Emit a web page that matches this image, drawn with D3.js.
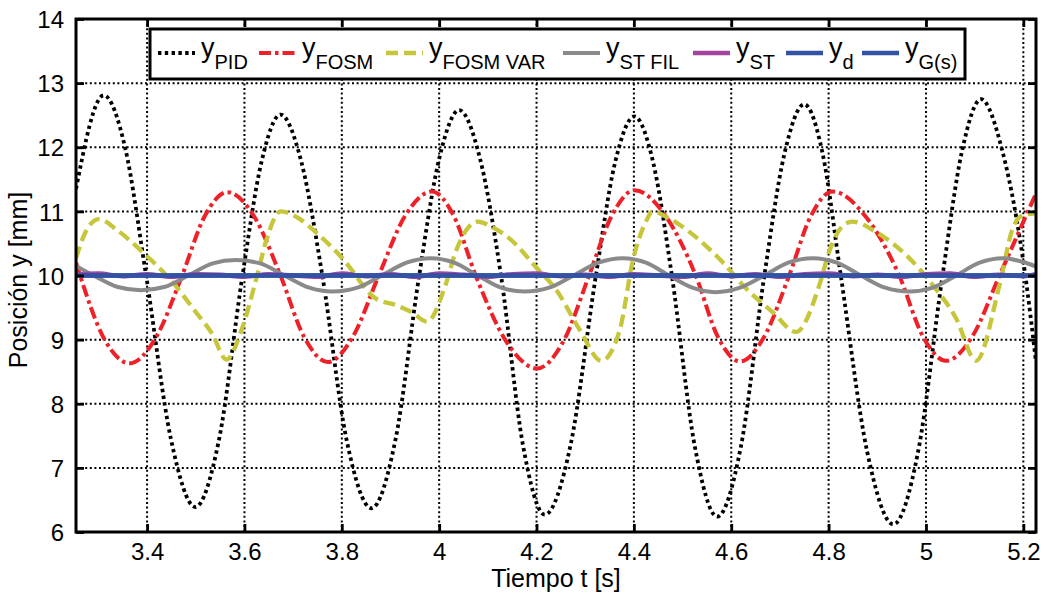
<!DOCTYPE html>
<html><head><meta charset="utf-8">
<script src="https://cdn.jsdelivr.net/npm/d3@7"></script>
<style>body{margin:0;background:#fff}svg{display:block}text{font-family:"Liberation Sans",Arial,sans-serif;fill:#000}</style>
</head><body>
<script>
// ---------- data ----------
const xTicks = [3.4, 3.6, 3.8, 4, 4.2, 4.4, 4.6, 4.8, 5, 5.2];
const yTicks = [6, 7, 8, 9, 10, 11, 12, 13, 14];
const xLabel = "Tiempo t [s]";
const yLabel = "Posición y [mm]";

const tPID = [3.254,3.311,3.355,3.398,3.449,3.499,3.548,3.596,3.635,3.674,3.717,3.760,3.810,3.861,3.910,3.959,4.000,4.041,4.084,4.127,4.172,4.217,4.270,4.322,4.361,4.401,4.440,4.478,4.525,4.571,4.620,4.668,4.709,4.750,4.788,4.825,4.879,4.933,4.984,5.034,5.074,5.113,5.157,5.204,5.226];
const vPID = [11.35,12.81,11.99,10.0,7.45,6.39,7.45,10.0,11.77,12.51,11.77,10.0,7.43,6.37,7.43,10.0,11.82,12.58,11.82,10.0,7.36,6.27,7.36,10.0,11.75,12.48,11.75,10.0,7.34,6.24,7.34,10.0,11.89,12.67,11.89,10.0,7.26,6.12,7.26,10.0,11.94,12.75,11.94,10.0,8.65];

const tFOSM = [3.254,3.315,3.364,3.418,3.472,3.518,3.565,3.620,3.674,3.722,3.771,3.823,3.876,3.930,3.985,4.030,4.075,4.138,4.201,4.255,4.308,4.355,4.401,4.464,4.527,4.572,4.618,4.668,4.719,4.763,4.808,4.876,4.945,4.993,5.041,5.096,5.151,5.226];
const vFOSM = [10.2,8.97,8.63,9.03,10.0,10.92,11.30,10.92,10.0,9.05,8.65,9.05,10.0,10.93,11.31,10.93,10.0,8.97,8.55,8.97,10.0,10.94,11.33,10.94,10.0,9.05,8.66,9.05,10.0,10.92,11.31,10.92,10.0,9.06,8.67,9.06,10.0,11.28];

const tFOSMVAR = [3.254,3.275,3.301,3.340,3.390,3.452,3.500,3.533,3.563,3.594,3.626,3.645,3.674,3.710,3.746,3.801,3.870,3.911,3.945,3.975,4.013,4.034,4.060,4.079,4.110,4.144,4.200,4.241,4.289,4.333,4.371,4.398,4.426,4.438,4.470,4.514,4.582,4.630,4.685,4.733,4.781,4.801,4.830,4.849,4.897,4.959,5.014,5.062,5.103,5.151,5.178,5.199,5.226];
const vFOSMVAR = [10.27,10.70,10.88,10.70,10.37,9.90,9.43,9.10,8.69,9.15,10.0,10.55,11.0,10.90,10.68,10.27,9.64,9.54,9.42,9.28,9.85,10.37,10.75,10.84,10.75,10.58,10.12,9.77,9.15,8.67,9.15,10.24,10.86,11.0,10.90,10.68,10.21,9.80,9.43,9.12,9.85,10.37,10.78,10.84,10.68,10.32,9.85,9.33,8.67,9.85,10.73,10.94,10.97];

const tSTFIL = [3.254,3.290,3.340,3.387,3.435,3.485,3.535,3.582,3.632,3.682,3.733,3.781,3.832,3.882,3.933,3.983,4.031,4.079,4.127,4.175,4.226,4.276,4.327,4.377,4.425,4.472,4.520,4.568,4.618,4.668,4.717,4.767,4.817,4.866,4.916,4.966,5.014,5.062,5.110,5.158,5.200,5.226];
const vSTFIL = [10.15,10.0,9.82,9.77,9.82,10.0,10.19,10.24,10.19,10.0,9.81,9.75,9.81,10.0,10.20,10.27,10.20,10.0,9.81,9.75,9.81,10.0,10.20,10.27,10.20,10.0,9.81,9.74,9.81,10.0,10.20,10.27,10.20,10.0,9.81,9.75,9.81,10.0,10.20,10.27,10.21,10.14];

const tST = [3.254,3.30,3.35,3.40,3.45,3.50,3.55,3.60,3.65,3.70,3.75,3.80,3.85,3.90,3.95,4.00,4.05,4.10,4.15,4.20,4.25,4.30,4.35,4.40,4.45,4.50,4.55,4.60,4.65,4.70,4.75,4.80,4.85,4.90,4.95,5.00,5.05,5.10,5.15,5.20,5.226];
const vST = [10.01,10.03,9.99,10.02,9.98,10.02,10.01,9.98,10.02,10.00,9.98,10.03,9.99,10.02,9.98,10.03,10.01,9.98,10.02,10.03,9.99,10.01,9.98,10.02,10.00,9.98,10.03,9.99,10.02,9.98,10.02,10.03,9.99,10.01,9.98,10.02,10.03,9.98,10.01,9.99,10.02];

const tD = [3.254, 5.226];
const vD = [10, 10];
const tG = [3.254, 5.226];
const vG = [10, 10];

const seriesNames = ["PID", "FOSM", "FOSM VAR", "ST FIL", "ST", "d", "G(s)"];

// ---------- layout / styles ----------
const W = 1045, H = 596;
const L = 76, R = 1036, T = 19, B = 532;
const legendX = [158, 259, 386, 563, 693, 786, 862];
const styles = [
  {t:tPID, v:vPID, color:"#000000", w:3.8, dash:"3.4,3.4"},
  {t:tFOSM, v:vFOSM, color:"#ee2028", w:4, dash:"12,4,3.5,4"},
  {t:tFOSMVAR, v:vFOSMVAR, color:"#c6c63a", w:4.3, dash:"12,6"},
  {t:tSTFIL, v:vSTFIL, color:"#8a8a8a", w:4, dash:null},
  {t:tST, v:vST, color:"#a3449e", w:4.5, dash:null},
  {t:tD, v:vD, color:"#3352a4", w:4.5, dash:null},
  {t:tG, v:vG, color:"#3352a4", w:4.5, dash:null}
];

const svg = d3.select("body").append("svg").attr("width", W).attr("height", H);
svg.append("rect").attr("width", W).attr("height", H).attr("fill", "#fff");

const x = d3.scaleLinear().domain([3.254, 5.226]).range([L, R]);
const y = d3.scaleLinear().domain([6, 14]).range([B, T]);

svg.append("clipPath").attr("id", "c").append("rect")
  .attr("x", L).attr("y", T).attr("width", R - L).attr("height", B - T);

// grid
const grid = svg.append("g").attr("stroke", "#000").attr("stroke-width", 2).attr("stroke-dasharray", "2,2.6");
grid.selectAll(".gx").data(xTicks).join("line")
  .attr("x1", d => x(d)).attr("x2", d => x(d)).attr("y1", T).attr("y2", B);
grid.selectAll(".gy").data(yTicks.filter(d => d > 6 && d < 14)).join("line")
  .attr("y1", d => y(d)).attr("y2", d => y(d)).attr("x1", L).attr("x2", R);

// lines
const plot = svg.append("g").attr("clip-path", "url(#c)");
styles.forEach(s => {
  const pts = s.t.map((t, i) => [t, s.v[i]]);
  const line = d3.line().x(d => x(d[0])).y(d => y(d[1])).curve(d3.curveMonotoneX);
  plot.append("path").attr("d", line(pts)).attr("fill", "none")
    .attr("stroke", s.color).attr("stroke-width", s.w)
    .attr("stroke-dasharray", s.dash).attr("stroke-linejoin", "round");
});

// axes with inward ticks
const axB = svg.append("g").attr("transform", `translate(0,${B})`)
  .call(d3.axisBottom(x).tickValues(xTicks).tickSize(-8).tickFormat(d3.format("")));
const axT = svg.append("g").attr("transform", `translate(0,${T})`)
  .call(d3.axisTop(x).tickValues(xTicks).tickSize(-8).tickFormat(""));
const axL = svg.append("g").attr("transform", `translate(${L},0)`)
  .call(d3.axisLeft(y).tickValues(yTicks).tickSize(-8).tickPadding(12).tickFormat(d3.format("")));
const axR = svg.append("g").attr("transform", `translate(${R},0)`)
  .call(d3.axisRight(y).tickValues(yTicks).tickSize(-8).tickFormat(""));
[axB, axT, axL, axR].forEach(a => {
  a.select(".domain").remove();
  a.selectAll(".tick line").attr("stroke", "#000").attr("stroke-width", 2.8);
  a.selectAll("text").attr("font-size", 24).attr("font-family", "Liberation Sans, Arial, sans-serif").attr("fill", "#000");
});
axB.selectAll("text").attr("dy", null).attr("y", 28);
axL.selectAll("text").attr("dy", "0.36em");

// frame
svg.append("rect").attr("x", L).attr("y", T).attr("width", R - L).attr("height", B - T)
  .attr("fill", "none").attr("stroke", "#000").attr("stroke-width", 3);

// axis labels
svg.append("text").attr("x", (L + R) / 2).attr("y", 587).attr("text-anchor", "middle")
  .attr("font-size", 25).text(xLabel);
svg.append("text").attr("transform", "translate(27,280) rotate(-90)").attr("text-anchor", "middle")
  .attr("font-size", 25).text(yLabel);

// legend
const lg = svg.append("g");
lg.append("rect").attr("x", 150).attr("y", 29).attr("width", 815).attr("height", 50)
  .attr("fill", "#fff").attr("stroke", "#000").attr("stroke-width", 3);
const ly = 53;
styles.forEach((s, i) => {
  const cx = legendX[i];
  lg.append("line").attr("x1", cx).attr("x2", cx + 37).attr("y1", ly).attr("y2", ly)
    .attr("stroke", s.color).attr("stroke-width", s.w).attr("stroke-dasharray", s.dash);
  const tx = lg.append("text").attr("x", cx + 43).attr("y", 57).attr("font-size", 27);
  tx.append("tspan").text("y");
  tx.append("tspan").attr("font-size", 20).attr("dy", 12).text(seriesNames[i]);
});
</script>
</body></html>
